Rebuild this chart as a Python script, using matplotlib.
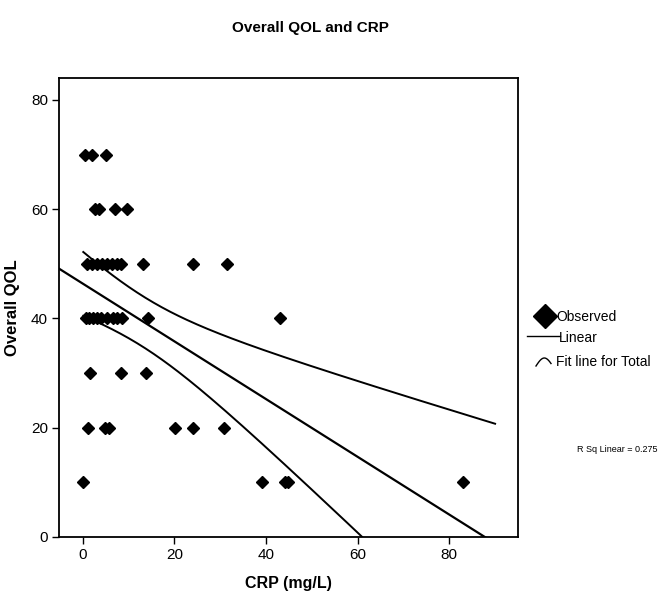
import numpy as np
import matplotlib
matplotlib.use('Agg')
import matplotlib.pyplot as plt
from matplotlib.lines import Line2D

plt.rcParams['font.family'] = ['Liberation Sans', 'DejaVu Sans']

# Observed points, grouped by QOL score
qol_70_crp = [0.5, 2.0, 5.1]
qol_60_crp = [2.7, 3.6, 7.1, 9.7]
qol_50_crp = [0.9, 2.0, 3.1, 4.2, 5.3, 6.4, 7.5, 8.4, 13.2, 24.1, 31.5]
qol_40_crp = [0.6, 1.3, 2.2, 3.2, 4.0, 5.2, 6.6, 7.5, 8.6, 14.2, 43.1]
qol_30_crp = [1.6, 8.4, 13.9]
qol_20_crp = [1.2, 4.9, 5.8, 20.2, 24.1, 30.9]
qol_10_crp = [0.1, 39.2, 44.2, 44.7, 83.1]

groups = {70: qol_70_crp, 60: qol_60_crp, 50: qol_50_crp, 40: qol_40_crp,
          30: qol_30_crp, 20: qol_20_crp, 10: qol_10_crp}
crp = np.array([c for q, cs in groups.items() for c in cs])
qol = np.array([q for q, cs in groups.items() for c in cs], dtype=float)

x_ticks = [0, 20, 40, 60, 80]
y_ticks = [0, 20, 40, 60, 80]
r_sq_text = 'R Sq Linear = 0.275'

# linear fit + 95% confidence band for the mean
n = len(crp)
xm, ym = crp.mean(), qol.mean()
sxx = ((crp - xm) ** 2).sum()
slope = ((crp - xm) * (qol - ym)).sum() / sxx
intercept = ym - slope * xm
resid = qol - (intercept + slope * crp)
s = np.sqrt((resid ** 2).sum() / (n - 2))
t_crit = 2.02

fig = plt.figure(figsize=(6.65, 6.02), dpi=100)
ax = fig.add_axes([59 / 665, 1 - 537 / 602, (518 - 59) / 665, (537 - 78) / 602])
ax.set_xlim(-5.2, 95)
ax.set_ylim(0, 84)

xs = np.linspace(-5.2, 95, 200)
ax.plot(xs, intercept + slope * xs, color='black', lw=1.6, zorder=2)

xb = np.linspace(crp.min(), 90, 200)
half = t_crit * s * np.sqrt(1 / n + (xb - xm) ** 2 / sxx)
ax.plot(xb, intercept + slope * xb + half, color='black', lw=1.4, zorder=2)
ax.plot(xb, intercept + slope * xb - half, color='black', lw=1.4, zorder=2)

ax.plot(crp, qol, linestyle='none', marker='D', ms=6.5, color='black', zorder=3)

ax.set_xticks(x_ticks)
ax.set_yticks(y_ticks)
ax.tick_params(direction='out', length=5, width=1, labelsize=11, pad=3)
for sp in ax.spines.values():
    sp.set_linewidth(1.3)
ax.set_xlabel('CRP (mg/L)', fontsize=11.5, fontweight='bold', labelpad=10)
ax.set_ylabel('Overall QOL', fontsize=12, fontweight='bold', labelpad=8)

fig.text(310 / 665, 1 - 28 / 602, 'Overall QOL and CRP', ha='center', va='center',
         fontsize=11, fontweight='bold')

# legend drawn by hand, SPSS style
def fy(py):
    return 1 - py / 602

fig.add_artist(Line2D([545 / 665], [fy(316)], marker='D', ms=12, color='black',
                      transform=fig.transFigure))
fig.text(556 / 665, fy(317), 'Observed', fontsize=10, va='center')
fig.add_artist(Line2D([527 / 665, 560 / 665], [fy(336), fy(336)], color='black', lw=1,
                      transform=fig.transFigure))
fig.text(559 / 665, fy(338), 'Linear', fontsize=10, va='center')
ic = np.linspace(0, 1, 30)
fig.add_artist(Line2D((536 + 15 * ic) / 665, fy(366 - 8 * np.sin(ic * np.pi * 0.9)),
                      color='black', lw=1, transform=fig.transFigure))
fig.text(556 / 665, fy(362), 'Fit line for Total', fontsize=10, va='center')
fig.text(617 / 665, fy(449), r_sq_text, fontsize=6.5, ha='center', va='center')

fig.savefig('out.png', dpi=100)
